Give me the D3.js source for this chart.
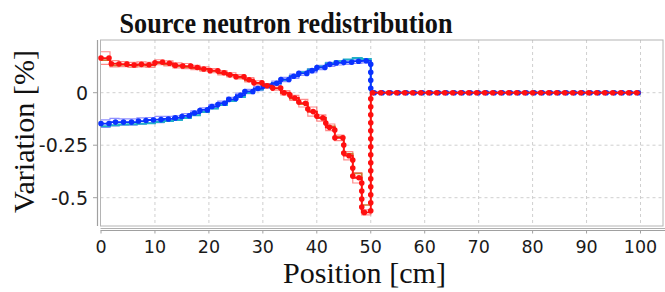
<!DOCTYPE html>
<html><head><meta charset="utf-8">
<script src="https://cdn.jsdelivr.net/npm/d3@7"></script>
<style>html,body{margin:0;padding:0;background:#fff;}svg{display:block;}</style>
</head><body>
<svg id="c" width="665" height="292"></svg>
<script>
// ---- data (30 bins of 5/3 cm across 0..50 cm; zero beyond) ----
const binEdges = d3.range(30).map(i => i * 50 / 30);
const redDots = [0.165,0.138,0.136,0.132,0.135,0.133,0.145,0.14,0.13,0.127,0.12,0.113,0.105,0.095,0.085,0.076,0.062,0.047,0.033,0.022,0.0,-0.025,-0.05,-0.09,-0.12,-0.165,-0.215,-0.30,-0.405,-0.57];
const redErr = [0.03,0.015,0.012,0.012,0.012,0.012,0.012,0.012,0.012,0.012,0.01,0.01,0.01,0.01,0.01,0.01,0.01,0.01,0.01,0.01,0.01,0.012,0.018,0.022,0.015,0.016,0.013,0.02,0.025,0.012];
const orangeStep = [0.155,0.13,0.132,0.128,0.13,0.13,0.14,0.135,0.126,0.122,0.117,0.11,0.102,0.092,0.082,0.072,0.058,0.044,0.03,0.02,-0.002,-0.028,-0.055,-0.09,-0.12,-0.16,-0.21,-0.29,-0.385,-0.535];
const blueDots = [-0.147,-0.14,-0.14,-0.14,-0.135,-0.13,-0.128,-0.125,-0.12,-0.11,-0.097,-0.082,-0.066,-0.05,-0.032,-0.012,0.006,0.02,0.032,0.045,0.063,0.078,0.092,0.105,0.12,0.135,0.142,0.145,0.15,0.152];
const blueErr = [0.018,0.018,0.015,0.015,0.015,0.012,0.015,0.012,0.01,0.01,0.01,0.01,0.01,0.01,0.01,0.01,0.01,0.01,0.01,0.01,0.01,0.01,0.01,0.01,0.01,0.01,0.01,0.01,0.01,0.01];
const cyanStep = [-0.16,-0.155,-0.152,-0.15,-0.148,-0.145,-0.14,-0.135,-0.13,-0.12,-0.107,-0.092,-0.075,-0.058,-0.04,-0.02,-0.002,0.015,0.03,0.045,0.06,0.08,0.097,0.11,0.125,0.14,0.15,0.158,0.165,0.16];
const xTicks = [0,10,20,30,40,50,60,70,80,90,100];
const yTicks = [0,-0.25,-0.5];
const yTickLabels = ["0","-0.25","-0.5"];
const titleText = "Source neutron redistribution";
const xLabel = "Position [cm]";
const yLabel = "Variation [%]";

const svg = d3.select("#c");
const x = d3.scaleLinear().domain([0,100]).range([101,640.5]);
const y = d3.scaleLinear().domain([-0.5,0]).range([197.7,92.7]);
const frame = {l:100.5, r:663, t:40, b:226};

function stepPts(vals){
  const p = vals.map((v,i)=>[binEdges[i], v]);
  p.push([50,0]); p.push([100,0]);
  return p;
}
const stepLine = d3.line().x(d=>x(d[0])).y(d=>y(d[1])).curve(d3.curveStepAfter);

// grid
const g = svg.append("g");
g.selectAll("line.vg").data(xTicks.filter(t=>t>0)).join("line")
  .attr("x1",d=>x(d)).attr("x2",d=>x(d)).attr("y1",frame.t).attr("y2",frame.b)
  .attr("stroke","#cfcfcf").attr("stroke-dasharray","3,3");
g.selectAll("line.hg").data(yTicks).join("line")
  .attr("x1",frame.l).attr("x2",frame.r).attr("y1",d=>y(d)).attr("y2",d=>y(d))
  .attr("stroke","#cfcfcf").attr("stroke-dasharray","3,3");

svg.append("rect").attr("x",frame.l).attr("y",frame.t).attr("width",frame.r-frame.l).attr("height",frame.b-frame.t)
  .attr("fill","none").attr("stroke","#b4b4b4").attr("stroke-width",1);

const plot = svg.append("g");
function band(vals, err, color){
  plot.append("path").attr("d", stepLine(stepPts(vals.map((v,i)=>v+err[i]))))
    .attr("fill","none").attr("stroke",color).attr("stroke-width",1.2);
  plot.append("path").attr("d", stepLine(stepPts(vals.map((v,i)=>v-err[i]))))
    .attr("fill","none").attr("stroke",color).attr("stroke-width",1.2);
}
band(blueDots, blueErr, "rgba(70,70,255,0.6)");
band(redDots, redErr, "rgba(255,60,60,0.6)");
plot.append("path").attr("d", stepLine(stepPts(cyanStep))).attr("fill","none").attr("stroke","#22b0c8").attr("stroke-width",2);
plot.append("path").attr("d", stepLine(stepPts(orangeStep))).attr("fill","none").attr("stroke","#cc7a30").attr("stroke-width",1.6);
function dotted(vals, color){
  const d = stepLine(stepPts(vals));
  plot.append("path").attr("d", d).attr("fill","none").attr("stroke",color).attr("stroke-width",1.8);
  plot.append("path").attr("d", d).attr("fill","none").attr("stroke",color).attr("stroke-width",5.6)
    .attr("stroke-linecap","round").attr("stroke-dasharray","0,8");
}
dotted(blueDots, "#0a32ff");
dotted(redDots, "#ff1010");

// y axis
svg.append("line").attr("x1",97.5).attr("x2",97.5).attr("y1",frame.t).attr("y2",frame.b).attr("stroke","#a0a0a0").attr("stroke-width",1.2);
svg.selectAll("line.yt").data(yTicks).join("line")
  .attr("x1",93).attr("x2",97.5).attr("y1",d=>y(d)).attr("y2",d=>y(d)).attr("stroke","#a0a0a0");
svg.selectAll("text.yl").data(yTicks).join("text")
  .attr("x",88).attr("y",d=>y(d)).attr("dy","0.36em").attr("text-anchor","end")
  .attr("font-family","DejaVu Sans").attr("font-size",19).attr("fill","#1a1a1a")
  .text((d,i)=>yTickLabels[i]);

// x axis
svg.append("line").attr("x1",frame.l).attr("x2",665).attr("y1",228.5).attr("y2",228.5).attr("stroke","#b0b0b0");
svg.append("line").attr("x1",frame.l).attr("x2",665).attr("y1",230.5).attr("y2",230.5).attr("stroke","#a0a0a0");
svg.selectAll("line.xt").data(xTicks).join("line")
  .attr("x1",d=>x(d)).attr("x2",d=>x(d)).attr("y1",230.5).attr("y2",233.5).attr("stroke","#a0a0a0");
svg.selectAll("text.xl").data(xTicks).join("text")
  .attr("x",d=>x(d)).attr("y",253.3).attr("text-anchor","middle")
  .attr("font-family","DejaVu Sans").attr("font-size",17.5).attr("fill","#1a1a1a")
  .text(d=>d);

function fitText(sel, w){
  const cur = sel.node().getComputedTextLength();
  const fs = parseFloat(sel.attr("font-size"));
  sel.attr("font-size", fs * w / cur);
}
const t = svg.append("text").attr("x",0).attr("y",0).attr("text-anchor","middle")
  .attr("transform","translate(286,32.5) scale(1,1.15)")
  .attr("font-family","Liberation Serif").attr("font-weight","bold").attr("font-size",28).attr("fill","#111").text(titleText);
fitText(t, 333);
const xl = svg.append("text").attr("x",364.5).attr("y",283).attr("text-anchor","middle")
  .attr("font-family","Liberation Serif").attr("font-size",30).attr("fill","#111").text(xLabel);
fitText(xl, 163);
const yl = svg.append("text").attr("transform","translate(33.5,131.5) rotate(-90)").attr("text-anchor","middle")
  .attr("font-family","Liberation Serif").attr("font-size",30).attr("fill","#111").text(yLabel);
fitText(yl, 163);
</script>
</body></html>
